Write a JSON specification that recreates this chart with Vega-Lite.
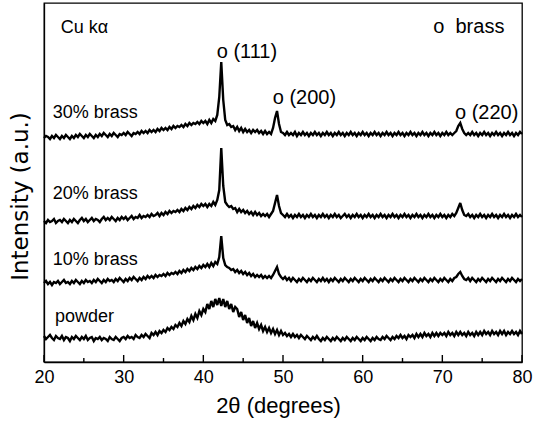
{
  "$schema": "https://vega.github.io/schema/vega-lite/v6.json",
  "width": 478,
  "height": 359,
  "autosize": {"type": "none"},
  "padding": {"left": 44, "top": 3, "right": 11, "bottom": 64},
  "background": "white",
  "config": {
    "view": {"stroke": "black", "strokeWidth": 1.3},
    "font": "Liberation Sans",
    "axis": {"labelFont": "Liberation Sans", "titleFont": "Liberation Sans", "labelColor": "black", "titleColor": "black", "domainColor": "black", "domainWidth": 1.3, "grid": false, "titleFontWeight": "normal", "ticks": false},
    "axisX": {"labelFontSize": 18, "labelPadding": 6, "titleFontSize": 22, "titlePadding": 9, "labelFlush": false, "titleX": 234},
    "axisY": {"labels": false, "titleFont": "DejaVu Sans", "titleFontSize": 23, "titlePadding": 12, "titleY": 193}
  },
  "datasets": {
    "xrd": [
      {"x":20,"p":26,"a":79,"b":141,"c":224},
      {"x":20.25,"p":23,"a":81,"b":139,"c":226},
      {"x":20.5,"p":25,"a":78,"b":142,"c":225},
      {"x":20.75,"p":27,"a":80,"b":140,"c":223},
      {"x":21,"p":24,"a":77,"b":141,"c":226},
      {"x":21.25,"p":22,"a":80,"b":143,"c":224},
      {"x":21.5,"p":26,"a":79,"b":139,"c":227},
      {"x":21.75,"p":24,"a":81,"b":141,"c":225},
      {"x":22,"p":23,"a":78,"b":142,"c":223},
      {"x":22.25,"p":26,"a":80,"b":140,"c":226},
      {"x":22.5,"p":22,"a":82,"b":143,"c":224},
      {"x":22.75,"p":25,"a":79,"b":141,"c":227},
      {"x":23,"p":24,"a":80,"b":139,"c":225},
      {"x":23.25,"p":21,"a":78,"b":142,"c":223},
      {"x":23.5,"p":25,"a":81,"b":140,"c":226},
      {"x":23.75,"p":23,"a":79,"b":143,"c":224},
      {"x":24,"p":26,"a":82,"b":141,"c":227},
      {"x":24.25,"p":24,"a":80,"b":139,"c":225},
      {"x":24.5,"p":22,"a":78,"b":142,"c":228},
      {"x":24.75,"p":25,"a":81,"b":144,"c":226},
      {"x":25,"p":23,"a":79,"b":141,"c":224},
      {"x":25.25,"p":26,"a":82,"b":143,"c":227},
      {"x":25.5,"p":22,"a":80,"b":140,"c":225},
      {"x":25.75,"p":24,"a":81,"b":142,"c":228},
      {"x":26,"p":25,"a":79,"b":144,"c":226},
      {"x":26.25,"p":21,"a":82,"b":141,"c":224},
      {"x":26.5,"p":24,"a":80,"b":143,"c":227},
      {"x":26.75,"p":23,"a":83,"b":142,"c":225},
      {"x":27,"p":25,"a":81,"b":140,"c":228},
      {"x":27.25,"p":22,"a":79,"b":143,"c":226},
      {"x":27.5,"p":24,"a":82,"b":145,"c":229},
      {"x":27.75,"p":23,"a":80,"b":142,"c":227},
      {"x":28,"p":21,"a":83,"b":144,"c":225},
      {"x":28.25,"p":25,"a":81,"b":142,"c":228},
      {"x":28.5,"p":23,"a":82,"b":145,"c":226},
      {"x":28.75,"p":22,"a":80,"b":143,"c":229},
      {"x":29,"p":25,"a":83,"b":141,"c":227},
      {"x":29.25,"p":23,"a":81,"b":144,"c":225},
      {"x":29.5,"p":21,"a":84,"b":142,"c":228},
      {"x":29.75,"p":24,"a":82,"b":145,"c":227},
      {"x":30,"p":25,"a":80,"b":143,"c":229},
      {"x":30.25,"p":23,"a":83,"b":145,"c":227},
      {"x":30.5,"p":26,"a":81,"b":142,"c":230},
      {"x":30.75,"p":24,"a":84,"b":144,"c":228},
      {"x":31,"p":25,"a":82,"b":146,"c":226},
      {"x":31.25,"p":23,"a":85,"b":143,"c":229},
      {"x":31.5,"p":27,"a":83,"b":145,"c":228},
      {"x":31.75,"p":25,"a":81,"b":144,"c":230},
      {"x":32,"p":24,"a":84,"b":147,"c":228},
      {"x":32.25,"p":27,"a":82,"b":144,"c":231},
      {"x":32.5,"p":25,"a":85,"b":146,"c":229},
      {"x":32.75,"p":28,"a":83,"b":145,"c":231},
      {"x":33,"p":26,"a":86,"b":147,"c":229},
      {"x":33.25,"p":24,"a":84,"b":145,"c":232},
      {"x":33.5,"p":29,"a":86,"b":148,"c":230},
      {"x":33.75,"p":27,"a":84,"b":146,"c":232},
      {"x":34,"p":30,"a":87,"b":147,"c":230},
      {"x":34.25,"p":27,"a":85,"b":149,"c":233},
      {"x":34.5,"p":31,"a":87,"b":146,"c":231},
      {"x":34.75,"p":29,"a":86,"b":149,"c":234},
      {"x":35,"p":32,"a":88,"b":147,"c":232},
      {"x":35.25,"p":30,"a":86,"b":150,"c":234},
      {"x":35.5,"p":34,"a":89,"b":148,"c":232},
      {"x":35.75,"p":32,"a":87,"b":151,"c":235},
      {"x":36,"p":35,"a":89,"b":149,"c":233},
      {"x":36.25,"p":33,"a":88,"b":151,"c":236},
      {"x":36.5,"p":37,"a":90,"b":150,"c":234},
      {"x":36.75,"p":35,"a":88,"b":152,"c":236},
      {"x":37,"p":39,"a":91,"b":150,"c":235},
      {"x":37.25,"p":36,"a":89,"b":153,"c":237},
      {"x":37.5,"p":41,"a":92,"b":151,"c":235},
      {"x":37.75,"p":38,"a":90,"b":154,"c":238},
      {"x":38,"p":43,"a":93,"b":152,"c":236},
      {"x":38.25,"p":40,"a":91,"b":155,"c":239},
      {"x":38.5,"p":46,"a":94,"b":153,"c":237},
      {"x":38.75,"p":42,"a":92,"b":156,"c":239},
      {"x":39,"p":48,"a":95,"b":154,"c":238},
      {"x":39.25,"p":44,"a":93,"b":157,"c":240},
      {"x":39.5,"p":51,"a":96,"b":155,"c":238},
      {"x":39.75,"p":47,"a":94,"b":158,"c":241},
      {"x":40,"p":53,"a":97,"b":156,"c":239},
      {"x":40.25,"p":50,"a":95,"b":158,"c":241},
      {"x":40.5,"p":58,"a":98,"b":155,"c":238},
      {"x":40.75,"p":53,"a":95,"b":158,"c":242},
      {"x":41,"p":61,"a":99,"b":156,"c":239},
      {"x":41.25,"p":55,"a":96,"b":160,"c":243},
      {"x":41.5,"p":63,"a":100,"b":157,"c":241},
      {"x":41.75,"p":57,"a":98,"b":162,"c":247},
      {"x":42,"p":64,"a":105,"b":172,"c":265},
      {"x":42.25,"p":56,"a":126,"b":214,"c":300},
      {"x":42.5,"p":63,"a":104,"b":176,"c":262},
      {"x":42.75,"p":55,"a":97,"b":160,"c":242},
      {"x":43,"p":61,"a":95,"b":157,"c":237},
      {"x":43.25,"p":53,"a":94,"b":155,"c":238},
      {"x":43.5,"p":58,"a":92,"b":156,"c":235},
      {"x":43.75,"p":50,"a":93,"b":153,"c":236},
      {"x":44,"p":55,"a":90,"b":154,"c":232},
      {"x":44.25,"p":53,"a":92,"b":150,"c":235},
      {"x":44.5,"p":45,"a":89,"b":153,"c":231},
      {"x":44.75,"p":50,"a":91,"b":150,"c":234},
      {"x":45,"p":42,"a":88,"b":152,"c":230},
      {"x":45.25,"p":47,"a":90,"b":149,"c":233},
      {"x":45.5,"p":39,"a":87,"b":151,"c":230},
      {"x":45.75,"p":44,"a":89,"b":148,"c":232},
      {"x":46,"p":36,"a":86,"b":150,"c":229},
      {"x":46.25,"p":41,"a":88,"b":147,"c":232},
      {"x":46.5,"p":34,"a":85,"b":150,"c":230},
      {"x":46.75,"p":39,"a":87,"b":147,"c":232},
      {"x":47,"p":33,"a":85,"b":149,"c":229},
      {"x":47.25,"p":37,"a":87,"b":146,"c":231},
      {"x":47.5,"p":31,"a":84,"b":148,"c":228},
      {"x":47.75,"p":35,"a":86,"b":146,"c":231},
      {"x":48,"p":30,"a":84,"b":148,"c":228},
      {"x":48.25,"p":34,"a":86,"b":145,"c":230},
      {"x":48.5,"p":29,"a":84,"b":148,"c":228},
      {"x":48.75,"p":33,"a":87,"b":151,"c":234},
      {"x":49,"p":28,"a":91,"b":159,"c":244},
      {"x":49.25,"p":32,"a":95,"b":167,"c":251},
      {"x":49.5,"p":27,"a":88,"b":156,"c":238},
      {"x":49.75,"p":31,"a":85,"b":149,"c":230},
      {"x":50,"p":27,"a":83,"b":147,"c":229},
      {"x":50.25,"p":29,"a":85,"b":145,"c":227},
      {"x":50.5,"p":26,"a":82,"b":148,"c":230},
      {"x":50.75,"p":28,"a":84,"b":145,"c":227},
      {"x":51,"p":25,"a":81,"b":147,"c":229},
      {"x":51.25,"p":28,"a":84,"b":144,"c":227},
      {"x":51.5,"p":25,"a":82,"b":147,"c":230},
      {"x":51.75,"p":27,"a":80,"b":145,"c":226},
      {"x":52,"p":24,"a":83,"b":148,"c":229},
      {"x":52.25,"p":27,"a":81,"b":145,"c":227},
      {"x":52.5,"p":25,"a":84,"b":147,"c":230},
      {"x":52.75,"p":23,"a":82,"b":144,"c":227},
      {"x":53,"p":26,"a":80,"b":147,"c":229},
      {"x":53.25,"p":24,"a":83,"b":145,"c":226},
      {"x":53.5,"p":22,"a":81,"b":148,"c":229},
      {"x":53.75,"p":25,"a":84,"b":145,"c":227},
      {"x":54,"p":23,"a":82,"b":147,"c":230},
      {"x":54.25,"p":26,"a":80,"b":144,"c":227},
      {"x":54.5,"p":23,"a":83,"b":147,"c":229},
      {"x":54.75,"p":21,"a":81,"b":145,"c":226},
      {"x":55,"p":24,"a":84,"b":148,"c":229},
      {"x":55.25,"p":22,"a":81,"b":145,"c":227},
      {"x":55.5,"p":25,"a":83,"b":147,"c":230},
      {"x":55.75,"p":23,"a":80,"b":144,"c":227},
      {"x":56,"p":21,"a":83,"b":147,"c":229},
      {"x":56.25,"p":24,"a":81,"b":145,"c":226},
      {"x":56.5,"p":22,"a":84,"b":148,"c":229},
      {"x":56.75,"p":25,"a":82,"b":145,"c":227},
      {"x":57,"p":23,"a":80,"b":147,"c":230},
      {"x":57.25,"p":21,"a":83,"b":144,"c":227},
      {"x":57.5,"p":24,"a":81,"b":146,"c":229},
      {"x":57.75,"p":22,"a":84,"b":148,"c":226},
      {"x":58,"p":25,"a":82,"b":145,"c":229},
      {"x":58.25,"p":23,"a":80,"b":147,"c":227},
      {"x":58.5,"p":21,"a":83,"b":144,"c":230},
      {"x":58.75,"p":24,"a":81,"b":147,"c":227},
      {"x":59,"p":22,"a":84,"b":145,"c":229},
      {"x":59.25,"p":25,"a":82,"b":148,"c":226},
      {"x":59.5,"p":23,"a":80,"b":145,"c":229},
      {"x":59.75,"p":21,"a":83,"b":147,"c":227},
      {"x":60,"p":24,"a":81,"b":144,"c":230},
      {"x":60.25,"p":22,"a":84,"b":147,"c":227},
      {"x":60.5,"p":25,"a":82,"b":145,"c":229},
      {"x":60.75,"p":23,"a":80,"b":148,"c":226},
      {"x":61,"p":21,"a":83,"b":145,"c":229},
      {"x":61.25,"p":24,"a":81,"b":147,"c":227},
      {"x":61.5,"p":22,"a":84,"b":144,"c":230},
      {"x":61.75,"p":25,"a":82,"b":147,"c":227},
      {"x":62,"p":23,"a":80,"b":145,"c":229},
      {"x":62.25,"p":22,"a":83,"b":148,"c":226},
      {"x":62.5,"p":25,"a":81,"b":145,"c":229},
      {"x":62.75,"p":23,"a":84,"b":147,"c":227},
      {"x":63,"p":26,"a":82,"b":144,"c":230},
      {"x":63.25,"p":24,"a":80,"b":147,"c":227},
      {"x":63.5,"p":22,"a":83,"b":145,"c":229},
      {"x":63.75,"p":25,"a":81,"b":148,"c":226},
      {"x":64,"p":23,"a":84,"b":145,"c":229},
      {"x":64.25,"p":26,"a":82,"b":147,"c":227},
      {"x":64.5,"p":24,"a":80,"b":144,"c":230},
      {"x":64.75,"p":27,"a":83,"b":147,"c":227},
      {"x":65,"p":24,"a":81,"b":145,"c":229},
      {"x":65.25,"p":26,"a":84,"b":148,"c":226},
      {"x":65.5,"p":23,"a":82,"b":145,"c":229},
      {"x":65.75,"p":27,"a":80,"b":147,"c":227},
      {"x":66,"p":25,"a":83,"b":144,"c":230},
      {"x":66.25,"p":27,"a":81,"b":147,"c":227},
      {"x":66.5,"p":24,"a":84,"b":145,"c":229},
      {"x":66.75,"p":28,"a":82,"b":148,"c":226},
      {"x":67,"p":25,"a":80,"b":145,"c":229},
      {"x":67.25,"p":28,"a":83,"b":147,"c":227},
      {"x":67.5,"p":25,"a":81,"b":144,"c":230},
      {"x":67.75,"p":29,"a":84,"b":147,"c":227},
      {"x":68,"p":26,"a":82,"b":145,"c":229},
      {"x":68.25,"p":28,"a":80,"b":148,"c":226},
      {"x":68.5,"p":25,"a":83,"b":145,"c":229},
      {"x":68.75,"p":29,"a":81,"b":147,"c":227},
      {"x":69,"p":26,"a":84,"b":144,"c":230},
      {"x":69.25,"p":29,"a":82,"b":147,"c":227},
      {"x":69.5,"p":26,"a":80,"b":145,"c":229},
      {"x":69.75,"p":29,"a":83,"b":148,"c":226},
      {"x":70,"p":27,"a":81,"b":145,"c":229},
      {"x":70.25,"p":29,"a":84,"b":147,"c":227},
      {"x":70.5,"p":26,"a":82,"b":144,"c":230},
      {"x":70.75,"p":30,"a":80,"b":147,"c":227},
      {"x":71,"p":27,"a":83,"b":145,"c":229},
      {"x":71.25,"p":29,"a":81,"b":148,"c":227},
      {"x":71.5,"p":26,"a":84,"b":146,"c":229},
      {"x":71.75,"p":30,"a":85,"b":149,"c":231},
      {"x":72,"p":27,"a":88,"b":154,"c":236},
      {"x":72.25,"p":30,"a":90,"b":159,"c":239},
      {"x":72.5,"p":27,"a":86,"b":152,"c":233},
      {"x":72.75,"p":29,"a":83,"b":147,"c":229},
      {"x":73,"p":26,"a":82,"b":146,"c":227},
      {"x":73.25,"p":30,"a":84,"b":148,"c":229},
      {"x":73.5,"p":27,"a":81,"b":145,"c":227},
      {"x":73.75,"p":29,"a":84,"b":147,"c":230},
      {"x":74,"p":26,"a":82,"b":144,"c":227},
      {"x":74.25,"p":30,"a":80,"b":147,"c":229},
      {"x":74.5,"p":27,"a":83,"b":145,"c":226},
      {"x":74.75,"p":30,"a":81,"b":148,"c":229},
      {"x":75,"p":27,"a":84,"b":145,"c":227},
      {"x":75.25,"p":31,"a":82,"b":147,"c":230},
      {"x":75.5,"p":28,"a":80,"b":144,"c":227},
      {"x":75.75,"p":30,"a":83,"b":147,"c":229},
      {"x":76,"p":27,"a":81,"b":145,"c":226},
      {"x":76.25,"p":31,"a":84,"b":148,"c":229},
      {"x":76.5,"p":28,"a":82,"b":145,"c":227},
      {"x":76.75,"p":30,"a":80,"b":147,"c":230},
      {"x":77,"p":27,"a":83,"b":144,"c":227},
      {"x":77.25,"p":31,"a":81,"b":147,"c":229},
      {"x":77.5,"p":28,"a":84,"b":145,"c":226},
      {"x":77.75,"p":31,"a":82,"b":148,"c":229},
      {"x":78,"p":27,"a":80,"b":145,"c":227},
      {"x":78.25,"p":30,"a":83,"b":147,"c":230},
      {"x":78.5,"p":28,"a":81,"b":144,"c":227},
      {"x":78.75,"p":31,"a":84,"b":147,"c":229},
      {"x":79,"p":28,"a":82,"b":145,"c":226},
      {"x":79.25,"p":30,"a":80,"b":148,"c":229},
      {"x":79.5,"p":27,"a":83,"b":145,"c":227},
      {"x":79.75,"p":31,"a":81,"b":147,"c":230},
      {"x":80,"p":28,"a":83,"b":145,"c":228}
    ],
    "smallLabels": [
      {"x":22.1,"y":333.7,"t":"Cu kα"},
      {"x":21.09,"y":249.3,"t":"30% brass"},
      {"x":21.09,"y":168,"t":"20% brass"},
      {"x":21.09,"y":102,"t":"10% brass"},
      {"x":21.38,"y":45.3,"t":"powder"}
    ],
    "bigLabels": [
      {"x":68.86,"y":335.3,"t":"o\u00a0\u00a0brass"},
      {"x":41.68,"y":310.3,"t":"o (111)"},
      {"x":48.71,"y":263.7,"t":"o (200)"},
      {"x":71.59,"y":248.7,"t":"o (220)"}
    ],
    "majorTicks": [{"x":20},{"x":30},{"x":40},{"x":50},{"x":60},{"x":70},{"x":80}],
    "minorTicks": [{"x":25},{"x":35},{"x":45},{"x":55},{"x":65},{"x":75}]
  },
  "layer": [
    {
      "data": {"name": "xrd"},
      "transform": [{"fold": ["p", "a", "b", "c"], "as": ["series", "v"]}],
      "mark": {"type": "line", "color": "black", "strokeWidth": 2.4, "strokeJoin": "miter", "strokeMiterLimit": 3},
      "encoding": {
        "x": {"field": "x", "type": "quantitative", "scale": {"domain": [20, 80], "nice": false, "zero": false},
              "axis": {"values": [20, 30, 40, 50, 60, 70, 80], "title": "2θ (degrees)"}},
        "y": {"field": "v", "type": "quantitative", "scale": {"domain": [0, 359], "nice": false, "zero": false},
              "axis": {"title": "Intensity (a.u.)"}},
        "detail": {"field": "series", "type": "nominal"}
      }
    },
    {
      "data": {"name": "majorTicks"},
      "mark": {"type": "rule", "color": "black", "strokeWidth": 1.4},
      "encoding": {
        "x": {"field": "x", "type": "quantitative", "axis": {"values": [20, 30, 40, 50, 60, 70, 80], "title": "2θ (degrees)"}},
        "y": {"datum": 0, "type": "quantitative", "axis": {"title": "Intensity (a.u.)"}},
        "y2": {"datum": 7}
      }
    },
    {
      "data": {"name": "minorTicks"},
      "mark": {"type": "rule", "color": "black", "strokeWidth": 1.4},
      "encoding": {
        "x": {"field": "x", "type": "quantitative", "axis": {"values": [20, 30, 40, 50, 60, 70, 80], "title": "2θ (degrees)"}},
        "y": {"datum": 0, "type": "quantitative", "axis": {"title": "Intensity (a.u.)"}},
        "y2": {"datum": 4}
      }
    },
    {
      "data": {"name": "smallLabels"},
      "mark": {"type": "text", "align": "left", "baseline": "middle", "fontSize": 18, "font": "Liberation Sans", "color": "black"},
      "encoding": {
        "x": {"field": "x", "type": "quantitative", "axis": {"values": [20, 30, 40, 50, 60, 70, 80], "title": "2θ (degrees)"}},
        "y": {"field": "y", "type": "quantitative", "axis": {"title": "Intensity (a.u.)"}},
        "text": {"field": "t"}
      }
    },
    {
      "data": {"name": "bigLabels"},
      "mark": {"type": "text", "align": "left", "baseline": "middle", "fontSize": 20, "font": "Liberation Sans", "color": "black"},
      "encoding": {
        "x": {"field": "x", "type": "quantitative", "axis": {"values": [20, 30, 40, 50, 60, 70, 80], "title": "2θ (degrees)"}},
        "y": {"field": "y", "type": "quantitative", "axis": {"title": "Intensity (a.u.)"}},
        "text": {"field": "t"}
      }
    }
  ]
}
